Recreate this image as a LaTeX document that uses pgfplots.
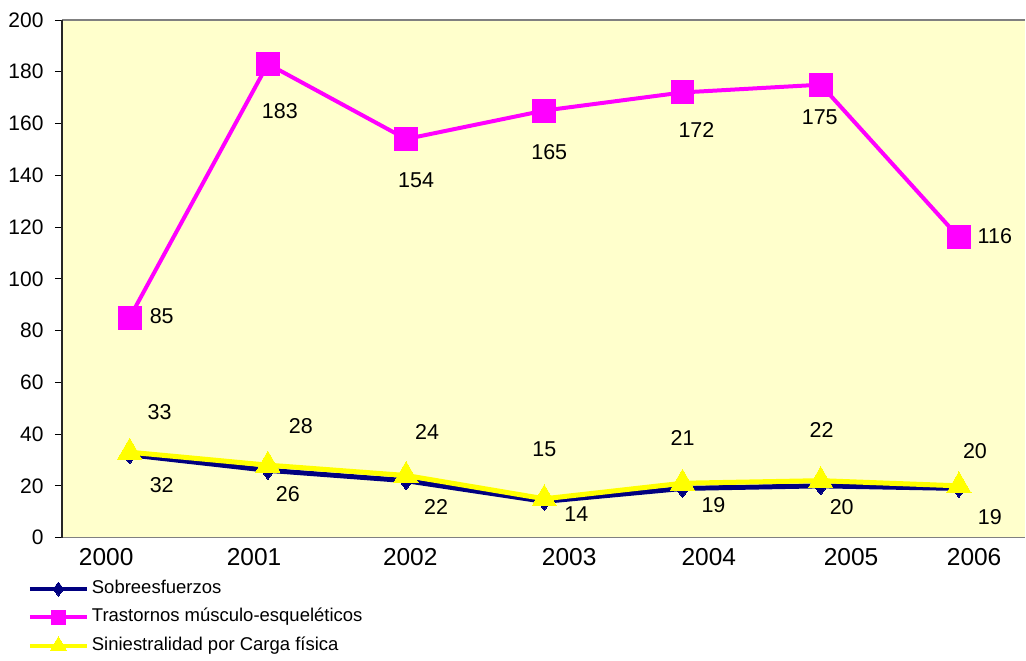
\documentclass[border=0pt]{standalone}
\usepackage{pgfplots}
\pgfplotsset{compat=1.18}
\usepackage{fontspec}
\setmainfont{Liberation Sans}
\definecolor{bgy}{HTML}{FFFFCC}
\definecolor{navyc}{HTML}{000080}
\definecolor{magc}{HTML}{FF00FF}
\definecolor{yelc}{HTML}{FFFF00}
\begin{document}
\begin{tikzpicture}
\begin{axis}[
  scale only axis,
  width=964pt, height=518pt,
  xmin=-0.49, xmax=6.48,
  ymin=0, ymax=200,
  clip=false,
  axis background/.style={fill=bgy},
  axis line style={draw=none},
  /pgf/number format/assume math mode=true,
  ytick={0,20,...,200},
  ytick pos=left,
  tick align=outside,
  major tick length=7pt,
  ytick style={black, line width=0.8pt},
  yticklabel style={font=\fontsize{21}{21}\selectfont, xshift=-8pt},
  xtick={-0.17,0.90,2.03,3.18,4.19,5.22,6.11},
  xticklabels={2000,2001,2002,2003,2004,2005,2006},
  xtick style={draw=none},
  xticklabel style={font=\fontsize{24.5}{25}\selectfont},
  legend cell align=left,
  legend style={draw=none, fill=none, inner sep=0pt, outer sep=0pt,
    at={(axis description cs:-0.0353,-0.083)}, anchor=north west,
    row sep=11pt,
    nodes={inner xsep=3pt, inner ysep=0pt, text height=13pt, text depth=4pt,
      font=\fontsize{18.5}{18.5}\selectfont},
    /tikz/every even column/.append style={column sep=0pt}},
  legend image code/.code={\draw[#1,mark repeat=2,mark phase=2] plot coordinates {(0pt,0pt)(28.5pt,0pt)(57pt,0pt)};},
]
% legend entries
\addlegendimage{navyc, line width=4pt, mark=diamond*, mark size=7pt, mark options={fill=navyc, draw=navyc, line width=0pt}}
\addlegendentry{Sobreesfuerzos}
\addlegendimage{magc, line width=3.5pt, mark=square*, mark size=7pt, mark options={fill=magc, draw=magc, line width=0pt}}
\addlegendentry{Trastornos músculo-esqueléticos}
\addlegendimage{yelc, line width=4pt, mark=triangle*, mark size=9pt, mark options={fill=yelc, draw=yelc, line width=0pt}}
\addlegendentry{Siniestralidad por Carga física}

% series
\addplot[forget plot, navyc, line width=5pt, mark=diamond*, mark size=9pt, mark options={fill=navyc, draw=navyc, line width=0pt}]
  coordinates {(0,32) (1,26) (2,22) (3,14) (4,19) (5,20) (6,19)};
\addplot[forget plot, magc, line width=4pt, mark=square*, mark size=11.5pt, mark options={fill=magc, draw=magc, line width=0pt}]
  coordinates {(0,85) (1,183) (2,154) (3,165) (4,172) (5,175) (6,116)};
\addplot[forget plot, yelc, line width=5pt, mark=triangle*, mark size=14pt, mark options={fill=yelc, draw=yelc, line width=0pt}]
  coordinates {(0,33) (1,28) (2,24) (3,15) (4,21) (5,22) (6,20)};

% data labels
\addplot[forget plot, draw=none, mark=none, nodes near coords, point meta=explicit symbolic,
  nodes near coords align={center},
  every node near coord/.style={font=\fontsize{21.5}{21.5}\selectfont, anchor=center, inner sep=0pt}]
  table[x=x, y=y, meta=lab] {
x y lab
0.217 48.6 33
0.232 20.1 32
1.239 43.2 28
1.145 17.0 26
2.152 40.9 24
2.217 12.0 22
3.000 34.0 15
3.232 8.9 14
4.000 38.6 21
4.224 12.7 19
5.007 41.7 22
5.152 11.6 20
6.116 33.6 20
6.224 8.1 19
0.232 85.7 85
1.087 164.9 183
2.072 138.2 154
3.036 149.0 165
4.101 157.5 172
4.993 162.5 175
6.260 116.6 116
};

% frame lines
\draw[gray, line width=1.5pt] (rel axis cs:0,1) -- (rel axis cs:1,1);
\draw[gray, line width=1.5pt] (rel axis cs:0,0) -- (rel axis cs:1,0);
\draw[black!85, line width=1.5pt] (rel axis cs:0,0) -- (rel axis cs:0,1);
\end{axis}
\path (-62pt,-123pt) rectangle (964pt,538pt);
\end{tikzpicture}
\end{document}
